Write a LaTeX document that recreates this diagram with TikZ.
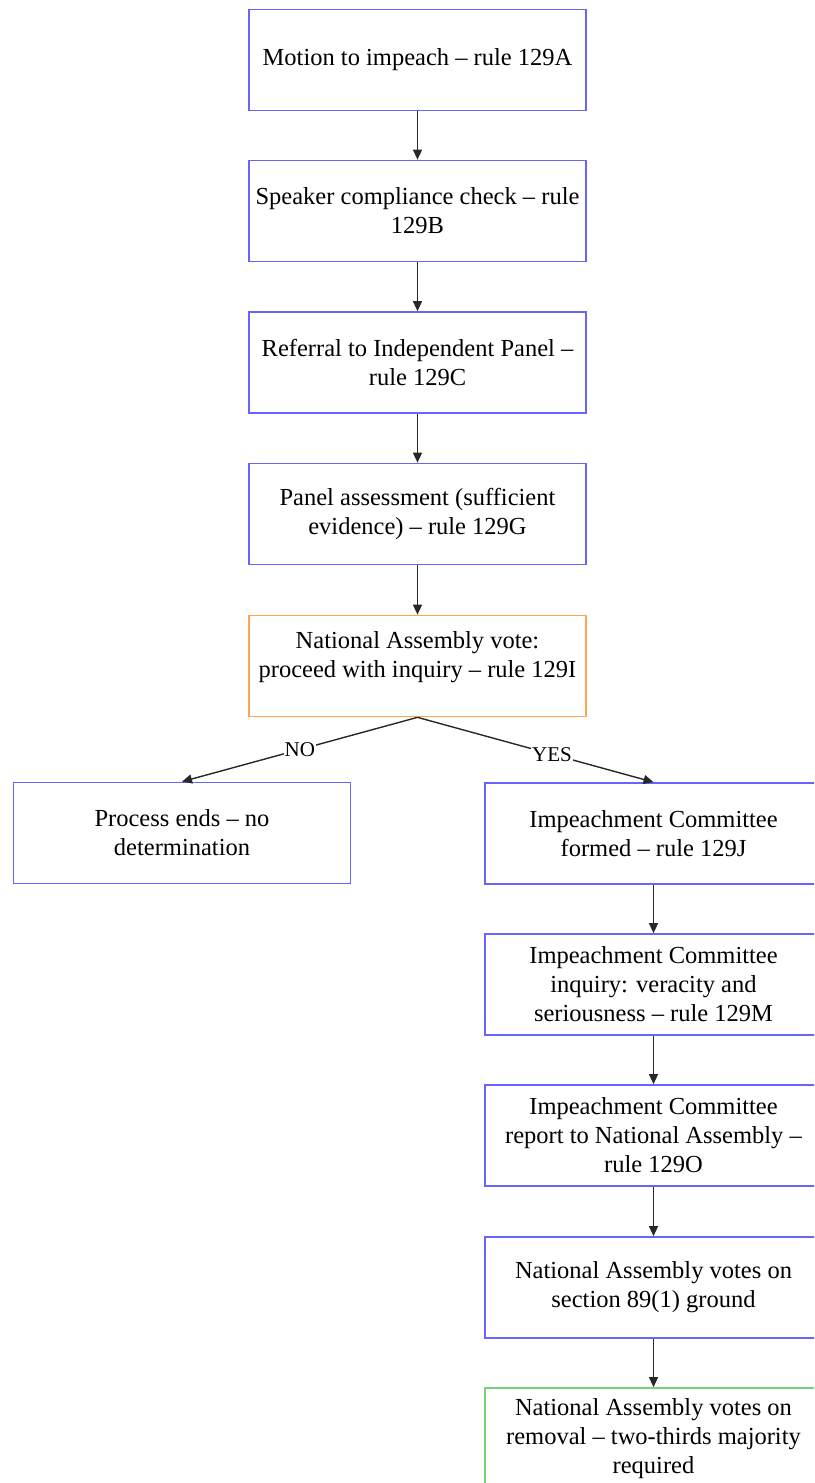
\documentclass[tikz,border=0pt]{standalone}
\usepackage{fontspec}
\setmainfont{Liberation Serif}
\usetikzlibrary{arrows.meta}
\definecolor{boxblue}{RGB}{102,102,255}
\definecolor{boxorange}{RGB}{255,165,80}
\definecolor{boxgreen}{RGB}{120,210,120}
\definecolor{arrowgray}{RGB}{40,40,40}
\tikzset{
  stepbox/.style={draw=boxblue, line width=1.7pt, minimum width=337pt, minimum height=101pt,
    inner sep=0pt, align=center, font=\fontsize{24.5}{29}\selectfont, fill=white},
  votebox/.style={stepbox, draw=boxorange},
  finalbox/.style={stepbox, draw=boxgreen},
  conn/.style={draw=arrowgray, line width=1.4pt, -{Triangle[length=10pt,width=9pt]}},
  branchlabel/.style={fill=white, inner sep=1pt, font=\fontsize{21}{24}\selectfont}
}
\begin{document}
\begin{tikzpicture}[x=1pt,y=-1pt]
\clip (0,0) rectangle (814,1483);
\fill[white] (0,0) rectangle (814,1483);
\node[stepbox] (a) at (417.5,60) {Motion to impeach -- rule 129A};
\node[stepbox] (b) at (417.5,211) {Speaker compliance check -- rule\\129B};
\node[stepbox] (c) at (417.5,362.5) {Referral to Independent Panel --\\rule 129C};
\node[stepbox] (d) at (417.5,514) {Panel assessment (sufficient\\evidence) -- rule 129G};
\node[votebox] (e) at (417.5,666) {National Assembly vote:\\proceed with inquiry -- rule 129I\\[-14pt]\strut};
\node[stepbox] (no) at (182,833) {Process ends -- no\\determination};
\node[stepbox] (r1) at (653.5,833.5) {Impeachment Committee\\formed -- rule 129J};
\node[stepbox] (r2) at (653.5,984.5) {Impeachment Committee\\inquiry: veracity and\\seriousness -- rule 129M};
\node[stepbox] (r3) at (653.5,1135.5) {Impeachment Committee\\report to National Assembly --\\rule 129O};
\node[stepbox] (r4) at (653.5,1287.5) {National Assembly votes on\\section 89(1) ground};
\node[finalbox] (g) at (653.5,1438.5) {National Assembly votes on\\removal -- two-thirds majority\\required};
\draw[conn] (a) -- (b);
\draw[conn] (b) -- (c);
\draw[conn] (c) -- (d);
\draw[conn] (d) -- (e);
\draw[conn] (e.south) -- node[branchlabel, pos=0.5] {NO} (no.north);
\draw[conn] (e.south) -- node[branchlabel, pos=0.57] {YES} (r1.north);
\draw[conn] (r1) -- (r2);
\draw[conn] (r2) -- (r3);
\draw[conn] (r3) -- (r4);
\draw[conn] (r4) -- (g);
\end{tikzpicture}
\end{document}
